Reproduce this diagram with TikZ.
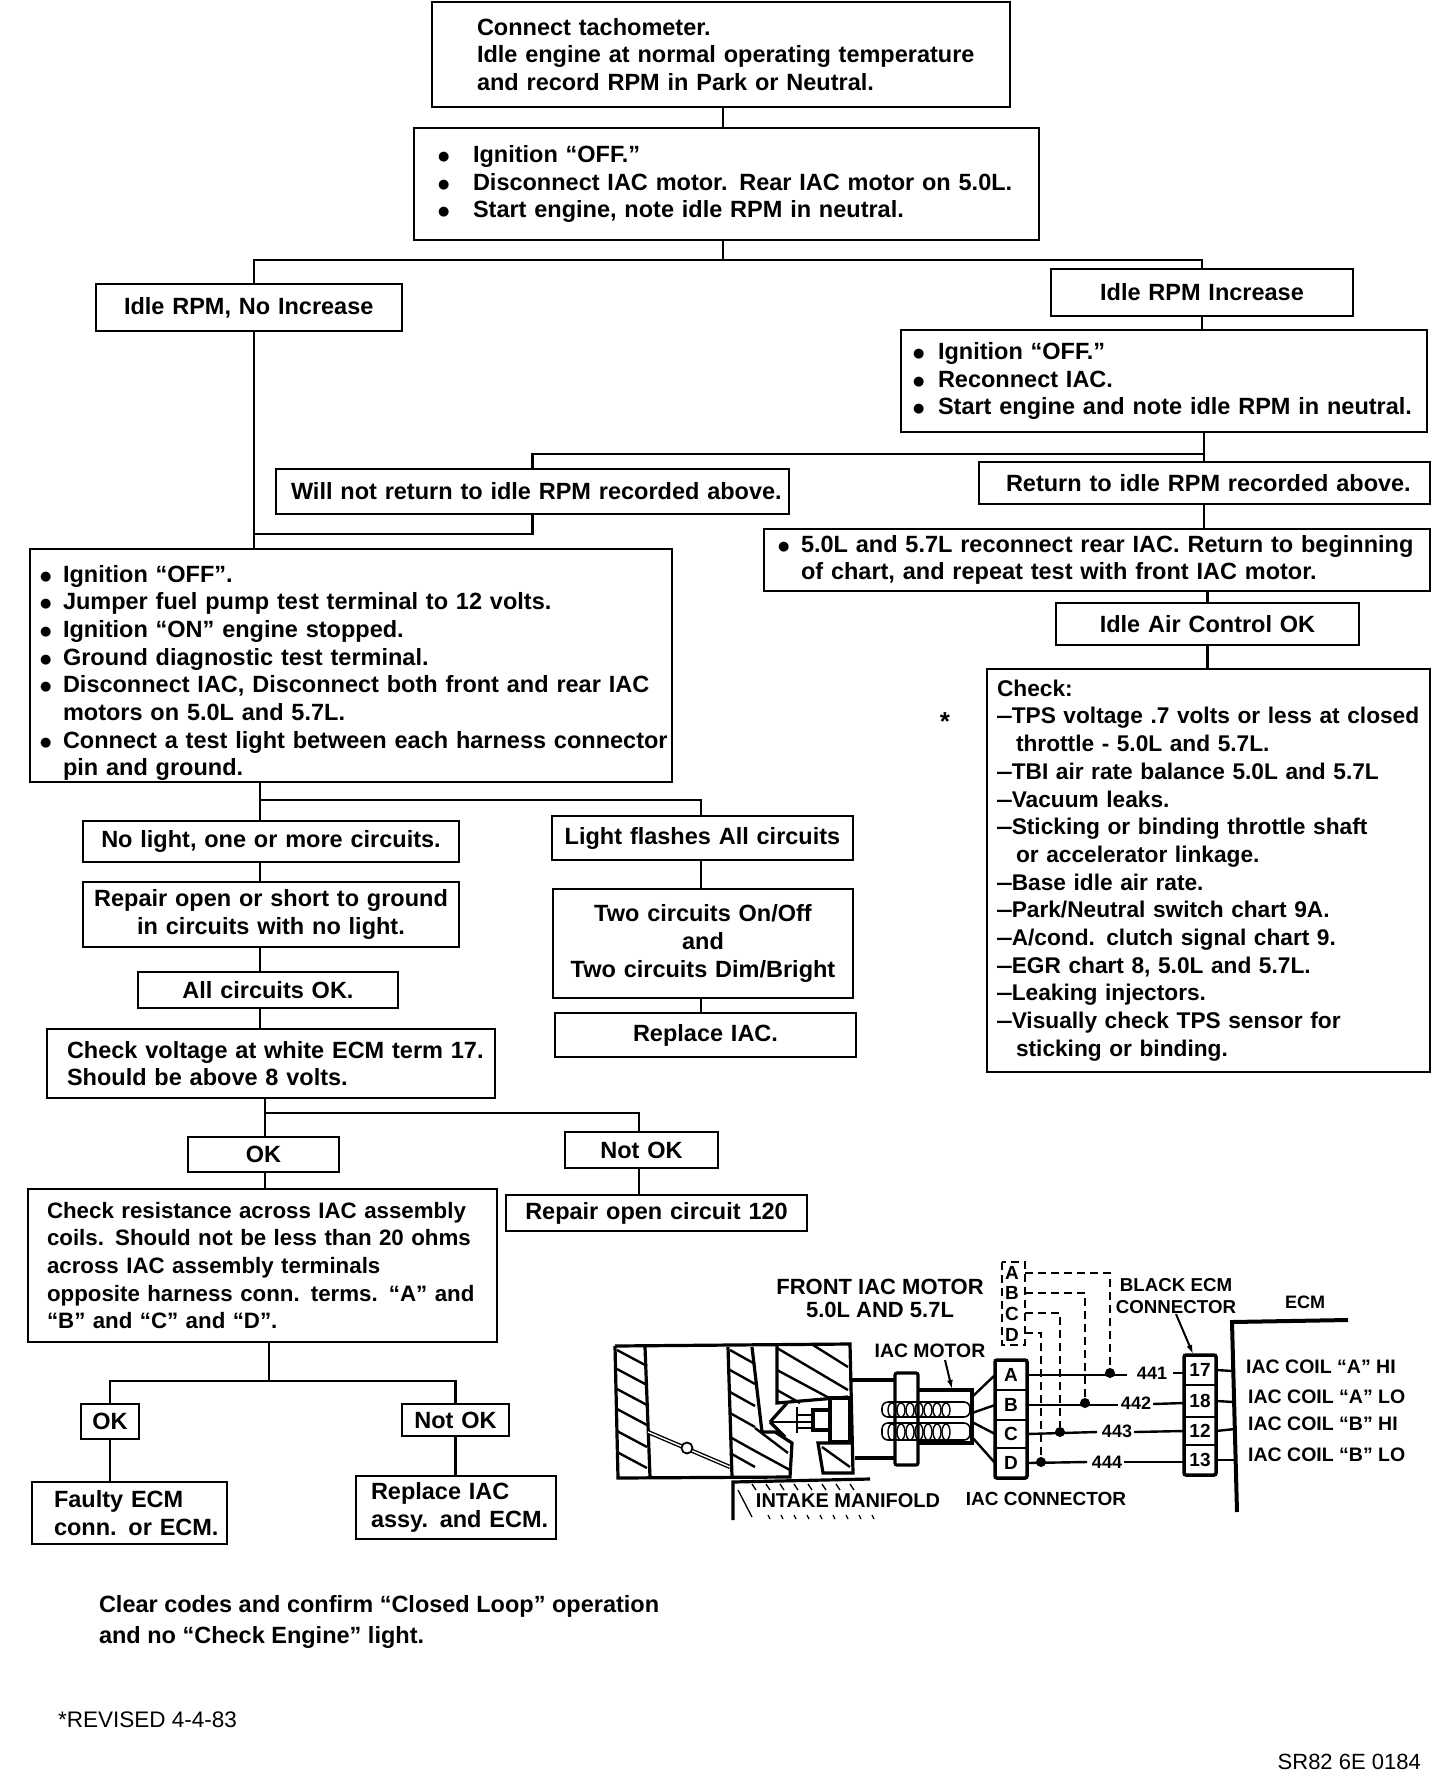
\documentclass[tikz,border=0pt]{standalone}
\usepackage{fontspec}
\setmainfont{Liberation Sans}
\newfontfamily\bulletfont{DejaVu Sans}
\usetikzlibrary{arrows.meta,fit,positioning}
\newcommand{\chartfont}{\fontsize{23.5}{27.7}\selectfont\bfseries}
\newcommand{\bul}[1]{\makebox[#1][l]{\raisebox{2pt}{\bulletfont\fontsize{13}{13}\selectfont ●}}}
\newcommand{\chk}{\scalebox{.65}[1]{—}}
\tikzset{
  stepbox/.style={draw=black,line width=2.4pt,inner xsep=0pt,inner ysep=0pt,outer sep=0pt,
    align=center,font=\chartfont},
  boxsize/.style 2 args={text width=#1,minimum height=#2},
  leftm/.style={align=left,execute at begin node={\leftskip=#1}},
  plaintext/.style={align=left,inner sep=0pt,outer sep=0pt,font=\chartfont},
  wire/.style={line width=2.4pt,draw=black},
  schemlabel/.style={inner sep=0pt,align=center,font=\fontsize{19}{23}\selectfont\bfseries},
  coillabel/.style={inner sep=0pt,anchor=west,font=\fontsize{19.5}{22}\selectfont\bfseries},
  wirelabel/.style={inner sep=0pt,font=\fontsize{18}{20}\selectfont\bfseries},
  pincell/.style={draw=black,line width=1.8pt,inner sep=0pt,outer sep=0pt,minimum width=32pt,
    font=\fontsize{19}{20}\selectfont\bfseries},
  pinframe/.style={draw=black,line width=3.5pt,rounded corners=2pt,inner sep=0pt},
  rearlabel/.style={inner sep=0pt,font=\fontsize{19}{20}\selectfont\bfseries},
  dashline/.style={line width=2pt,draw=black,dash pattern=on 8pt off 5pt},
  joindot/.style={circle,fill=black,inner sep=0pt,minimum size=10pt},
  bodyline/.style={line width=3.2pt,draw=black},
  hatch/.style={line width=2.4pt,draw=black},
  pointer/.style={-{Latex[length=9pt,width=6pt]},line width=2pt,draw=black}
}
\begin{document}
\begin{tikzpicture}[x=1pt,y=-1pt]
  \useasboundingbox (0,0) rectangle (1456,1772);
  % right hand branch
  \node[stepbox,boxsize={578pt}{105pt},leftm=45pt] (tach) at (721,54.5)
    {Connect tachometer.\\Idle engine at normal operating temperature\\and record RPM in Park or Neutral.};
  \node[stepbox,boxsize={625pt}{112pt},leftm=24pt,below=21pt of tach,xshift=5.5pt] (disconnect)
    {\bul{35pt}Ignition “OFF.”\\\bul{35pt}Disconnect IAC motor. Rear IAC motor on 5.0L.\\\bul{35pt}Start engine, note idle RPM in neutral.};
  \node[stepbox,boxsize={302pt}{47pt}] (increase) at (1202,292.5) {Idle RPM Increase};
  \node[stepbox,boxsize={526pt}{102pt},leftm=12pt,below=14pt of increase,xshift=-38pt] (reconnect)
    {\bul{25pt}Ignition “OFF.”\\\bul{25pt}Reconnect IAC.\\\bul{25pt}Start engine and note idle RPM in neutral.};
  \node[stepbox,boxsize={451pt}{42pt},leftm=27pt,below=30pt of reconnect,xshift=40.5pt] (returns)
    {Return to idle RPM recorded above.};
  \node[stepbox,boxsize={666pt}{62pt},leftm=14pt,below=25pt of returns,xshift=-107.5pt] (repeat)
    {\bul{23pt}5.0L and 5.7L reconnect rear IAC. Return to beginning\\\hspace*{23pt}of chart, and repeat test with front IAC motor.};
  \node[stepbox,boxsize={303pt}{42pt},below=12pt of repeat,xshift=110.5pt] (airok) {Idle Air Control OK};
  \node[stepbox,boxsize={443pt}{403pt},leftm=10pt,below=24pt of airok,xshift=1pt,
    font=\fontsize{22.7}{27.7}\selectfont\bfseries] (checks)
    {Check:\\\chk TPS voltage .7 volts or less at closed\\\hspace*{19pt}throttle - 5.0L and 5.7L.\\\chk TBI air rate balance 5.0L and 5.7L\\\chk Vacuum leaks.\\\chk Sticking or binding throttle shaft\\\hspace*{19pt}or accelerator linkage.\\\chk Base idle air rate.\\\chk Park/Neutral switch chart 9A.\\\chk A/cond. clutch signal chart 9.\\\chk EGR chart 8, 5.0L and 5.7L.\\\chk Leaking injectors.\\\chk Visually check TPS sensor for\\\hspace*{19pt}sticking or binding.};
  \node[inner sep=0pt,font=\fontsize{26}{26}\selectfont\bfseries] (star) at (945,722) {*};
  % left hand branch
  \node[stepbox,boxsize={306pt}{47pt},leftm=28pt] (noincrease) at (249,307.5) {Idle RPM, No Increase};
  \node[stepbox,boxsize={513pt}{45pt},leftm=15pt] (noreturn) at (532.5,491.5) {Will not return to idle RPM recorded above.};
  \node[stepbox,boxsize={642pt}{233pt},leftm=10pt] (jumper) at (351,665.5)
    {\rule{0pt}{32pt}\bul{23pt}Ignition “OFF”.\\\bul{23pt}Jumper fuel pump test terminal to 12 volts.\\\bul{23pt}Ignition “ON” engine stopped.\\\bul{23pt}Ground diagnostic test terminal.\\\bul{23pt}Disconnect IAC, Disconnect both front and rear IAC\\\hspace*{23pt}motors on 5.0L and 5.7L.\\\bul{23pt}Connect a test light between each harness connector\\\hspace*{23pt}pin and ground.};
  \node[stepbox,boxsize={376pt}{41pt},below=39pt of jumper,xshift=-80pt] (nolight) {No light, one or more circuits.};
  \node[stepbox,boxsize={376pt}{65pt},below=20pt of nolight] (repairopen) {Repair open or short to ground\\in circuits with no light.};
  \node[stepbox,boxsize={260pt}{36pt},below=25pt of repairopen,xshift=-3pt] (allok) {All circuits OK.};
  \node[stepbox,boxsize={448pt}{69pt},leftm=20pt,below=21pt of allok,xshift=3pt] (voltage)
    {Check voltage at white ECM term 17.\\Should be above 8 volts.};
  \node[stepbox,boxsize={151pt}{35pt},below=39pt of voltage,xshift=-7.5pt] (okupper) {OK};
  \node[stepbox,boxsize={469pt}{153pt},leftm=19pt,below=17pt of okupper,xshift=-1pt,
    font=\fontsize{22.3}{27.7}\selectfont\bfseries] (resist)
    {Check resistance across IAC assembly\\coils. Should not be less than 20 ohms\\across IAC assembly terminals\\opposite harness conn. terms. “A” and\\“B” and “C” and “D”.};
  \node[stepbox,boxsize={58pt}{35pt},below=62pt of resist,xshift=-152.5pt] (oklower) {OK};
  \node[stepbox,boxsize={107pt}{32pt},below=62pt of resist,xshift=193pt] (notoklower) {Not OK};
  \node[stepbox,boxsize={195pt}{62pt},leftm=22pt,below=43pt of oklower,xshift=19.5pt] (faulty) {Faulty ECM\\conn. or ECM.};
  \node[stepbox,boxsize={200pt}{63pt},leftm=15pt,below=40pt of notoklower,xshift=0.5pt] (replaceboth) {Replace IAC\\assy. and ECM.};
  \node[stepbox,boxsize={301pt}{44pt},below=34pt of jumper,xshift=351.5pt] (flashes) {Light flashes All circuits};
  \node[stepbox,boxsize={300pt}{109pt},below=29pt of flashes,xshift=0.5pt] (twocircuits) {Two circuits On/Off\\and\\Two circuits Dim/Bright};
  \node[stepbox,boxsize={301pt}{44pt},below=15pt of twocircuits,xshift=2.5pt] (replaceiac) {Replace IAC.};
  \node[stepbox,boxsize={153pt}{36pt}] (notokupper) at (641.5,1150) {Not OK};
  \node[stepbox,boxsize={301pt}{36pt},below=27pt of notokupper,xshift=15pt] (opencircuit) {Repair open circuit 120};
  \node[plaintext,anchor=north west] (clearcodes) at (99,1595) {Clear codes and confirm “Closed Loop” operation\\[4pt]and no “Check Engine” light.};
  \node[inner sep=0pt,anchor=west,font=\fontsize{22.5}{24}\selectfont] (revised) at (58,1720) {*REVISED 4-4-83};
  \node[inner sep=0pt,anchor=east,font=\fontsize{22}{24}\selectfont] (figno) at (1421,1762) {SR82 6E 0184};
  % bus bars
  \coordinate (topbus) at (723,260);
  \coordinate (midbus) at (1204,454);
  \coordinate (joinleft) at (254,534);
  \coordinate (lightbus) at (260,800);
  \coordinate (okbus) at (265,1113);
  \coordinate (lowbus) at (269,1381);
  \coordinate (flashdrop) at (701,800);
  \coordinate (notokdrop) at (639,1113);
  \draw[wire] (topbus |- tach.south) -- (topbus |- disconnect.north);
  \draw[wire] (topbus |- disconnect.south) -- (topbus);
  \draw[wire] (noincrease.north -| joinleft) |- (topbus);
  \draw[wire] (topbus) -| (increase.north);
  \draw[wire] (increase.south) -- (increase.south |- reconnect.north);
  \draw[wire] (midbus |- reconnect.south) -- (midbus |- returns.north);
  \draw[wire] (midbus) -| (noreturn.north);
  \draw[wire] (noreturn.south) |- (joinleft);
  \draw[wire] (joinleft |- noincrease.south) -- (joinleft |- jumper.north);
  \draw[wire] (midbus |- returns.south) -- (midbus |- repeat.north);
  \draw[wire] (airok.south |- repeat.south) -- (airok.north);
  \draw[wire] (airok.south) -- (airok.south |- checks.north);
  \draw[wire] (lightbus |- jumper.south) -- (lightbus |- nolight.north);
  \draw[wire] (lightbus) -- (flashdrop) -- (flashdrop |- flashes.north);
  \draw[wire] (lightbus |- nolight.south) -- (lightbus |- repairopen.north);
  \draw[wire] (lightbus |- repairopen.south) -- (lightbus |- allok.north);
  \draw[wire] (lightbus |- allok.south) -- (lightbus |- voltage.north);
  \draw[wire] (okbus |- voltage.south) -- (okbus |- okupper.north);
  \draw[wire] (okbus) -- (notokdrop) -- (notokdrop |- notokupper.north);
  \draw[wire] (okbus |- okupper.south) -- (okbus |- resist.north);
  \draw[wire] (notokdrop |- notokupper.south) -- (notokdrop |- opencircuit.north);
  \draw[wire] (flashdrop |- flashes.south) -- (flashdrop |- twocircuits.north);
  \draw[wire] (flashdrop |- twocircuits.south) -- (flashdrop |- replaceiac.north);
  \draw[wire] (lowbus |- resist.south) -- (lowbus);
  \draw[wire] (oklower.north) |- (lowbus);
  \draw[wire] (lowbus) -| (notoklower.north);
  \draw[wire] (oklower.south) -- (oklower.south |- faulty.north);
  \draw[wire] (notoklower.south) -- (notoklower.south |- replaceboth.north);
  % throttle body
  \draw[bodyline] (615,1346) -- (850,1344) -- (853,1473) -- (823,1473) -- (818,1443) -- (852,1443);
  \draw[bodyline] (615,1346) -- (618,1478) -- (790,1477) -- (792,1443) -- (775,1432) -- (762,1432) -- (752,1347);
  \draw[bodyline] (645,1347) -- (650,1477);
  \draw[bodyline] (728,1347) -- (732,1477);
  \draw[bodyline] (777,1345) -- (777,1403) -- (848,1397);
  \foreach \y in {1350,1369,1389,1409,1431,1452} \draw[hatch] (617,\y) -- (647,\y+16);
  \foreach \y in {1350,1370,1392,1413,1437,1453} \draw[hatch] (730,\y) -- (755,\y+14);
  \draw[hatch] (755,1451) -- (790,1470);
  \draw[hatch] (755,1428) -- (788,1453);
  \draw[hatch] (813,1345) -- (848,1367);
  \draw[hatch] (777,1348) -- (848,1390);
  \draw[hatch] (777,1370) -- (833,1400);
  \draw[hatch] (777,1390) -- (800,1403);
  \draw[hatch] (822,1447) -- (850,1467);
  % throttle plate and pintle
  \draw[line width=1.4pt,double distance=1.4pt] (648,1432) -- (730,1467);
  \draw[line width=1.8pt,fill=white] (687,1448) circle (5.5pt);
  \draw[bodyline,fill=white] (830,1398) rectangle (850,1442);
  \draw[bodyline,fill=white] (813,1410) rectangle (830,1430);
  \draw[bodyline] (770,1422) -- (787,1403);
  \draw[bodyline] (770,1422) -- (785,1437);
  \draw[hatch] (797,1407) -- (797,1433);
  \draw[hatch] (770,1422) -- (813,1422);
  \draw[hatch] (797,1415) -- (813,1415);
  \draw[hatch] (797,1428) -- (813,1428);
  % motor housing
  \draw[bodyline] (852,1380) -- (895,1380);
  \draw[bodyline] (855,1458) -- (895,1458);
  \draw[bodyline,rounded corners=2pt] (895,1373) rectangle (918,1465);
  \draw[bodyline] (918,1390) -- (972,1390) -- (972,1443) -- (918,1443);
  \draw[line width=1.6pt,rounded corners=6pt] (882,1402) rectangle (970,1417);
  \draw[line width=1.6pt,rounded corners=6pt] (882,1423) rectangle (970,1440);
  \foreach \x in {892,901,...,948} {
    \draw[line width=1.4pt] (\x,1410) ellipse (4pt and 7pt);
    \draw[line width=1.4pt] (\x,1432) ellipse (4pt and 8pt);
  }
  % intake manifold
  \draw[bodyline] (733,1520) -- (733,1482) -- (870,1479);
  \foreach \x in {752,766,...,856} \draw[line width=1.3pt] (\x,1484) -- (\x+4,1490);
  \foreach \x in {768,781,...,872} \draw[line width=1.3pt] (\x,1515) -- (\x+2,1519);
  \draw[line width=1.3pt] (738,1490) -- (752,1517);
  % IAC connector
  \node[pincell,minimum height=30pt] (iacA) at (1011,1375) {A};
  \node[pincell,minimum height=30pt,below=0pt of iacA] (iacB) {B};
  \node[pincell,minimum height=28pt,below=0pt of iacB] (iacC) {C};
  \node[pincell,minimum height=30pt,below=0pt of iacC] (iacD) {D};
  \node[pinframe,fit=(iacA)(iacD)] (iacframe) {};
  \coordinate (coilA) at (972,1397);
  \coordinate (coilB) at (972,1413);
  \coordinate (coilC) at (972,1422);
  \coordinate (coilD) at (972,1437);
  \draw[hatch] (coilA) -- (iacA.west);
  \draw[hatch] (coilB) -- (iacB.west);
  \draw[hatch] (coilC) -- (iacC.west);
  \draw[hatch] (coilD) -- (iacD.west);
  \node[schemlabel,font=\fontsize{22}{23}\selectfont\bfseries] (frontlabel) at (880,1298) {FRONT IAC MOTOR\\5.0L AND 5.7L};
  \node[schemlabel,font=\fontsize{19.4}{20}\selectfont\bfseries] (motorlabel) at (930,1351) {IAC MOTOR};
  \coordinate (motortip) at (952,1389);
  \draw[pointer] (motorlabel.south) ++(15,2) -- (motortip);
  \node[schemlabel,font=\fontsize{20}{20}\selectfont\bfseries] (intakelabel) at (848,1501) {INTAKE MANIFOLD};
  \node[schemlabel] (connlabel) at (1046,1499) {IAC CONNECTOR};
  % rear IAC connector
  \node[rearlabel] (rearA) at (1012,1273) {A};
  \node[rearlabel] (rearB) at (1012,1293) {B};
  \node[rearlabel] (rearC) at (1012,1314) {C};
  \node[rearlabel] (rearD) at (1012,1335) {D};
  \draw[dashline] (1002,1262) rectangle (1025,1345);
  \node[joindot] (dotA) at (1110,1373) {};
  \node[joindot] (dotB) at (1085,1403) {};
  \node[joindot] (dotC) at (1060,1432) {};
  \node[joindot] (dotD) at (1041,1462) {};
  \draw[dashline] (1025,1273) -| (dotA);
  \draw[dashline] (1025,1293) -| (dotB);
  \draw[dashline] (1025,1313) -| (dotC);
  \draw[dashline] (1025,1333) -| (dotD);
  % ECM side
  \node[pincell,minimum height=30pt] (pinSeventeen) at (1200,1370) {17};
  \node[pincell,minimum height=32pt,below=0pt of pinSeventeen] (pinEighteen) {18};
  \node[pincell,minimum height=28pt,below=0pt of pinEighteen] (pinTwelve) {12};
  \node[pincell,minimum height=30pt,below=0pt of pinTwelve] (pinThirteen) {13};
  \node[pinframe,fit=(pinSeventeen)(pinThirteen)] (ecmframe) {};
  \node[wirelabel] (wireA) at (1152,1373) {441};
  \node[wirelabel] (wireB) at (1136,1403) {442};
  \node[wirelabel] (wireC) at (1117,1431) {443};
  \node[wirelabel] (wireD) at (1107,1462) {444};
  \draw[wire] (iacA.east) -- (1127,1375);
  \draw[wire] (wireA.east) ++(6,0) -- (pinSeventeen.west |- wireA.east);
  \draw[wire] (iacB.east) -- (1118,1405);
  \draw[wire] (wireB.east) ++(2,1) -- (pinEighteen.west |- wireB.east);
  \draw[wire] (iacC.east) -- (1097,1432);
  \draw[wire] (wireC.east) ++(2,1) -- (pinTwelve.west |- wireC.east);
  \draw[wire] (iacD.east) -- (1087,1462);
  \draw[wire] (wireD.east) ++(2,0) -- (pinThirteen.west |- wireD.east);
  \node[schemlabel,font=\fontsize{18.7}{22.5}\selectfont\bfseries] (blacklabel) at (1176,1296) {BLACK ECM\\CONNECTOR};
  \coordinate (blacktip) at (1193,1354);
  \draw[pointer] (blacklabel.south) -- (blacktip);
  \node[schemlabel,font=\fontsize{18}{20}\selectfont\bfseries] (ecmlabel) at (1305,1302) {ECM};
  \draw[line width=4pt] (1348,1320) -- (1232,1322) -- (1237,1512);
  \draw[wire] (pinSeventeen.east) -- (1233,1371);
  \draw[wire] (pinEighteen.east) -- (1234,1402);
  \draw[wire] (pinTwelve.east) -- (1235,1429);
  \draw[wire] (pinThirteen.east) -- (1235,1460);
  \node[coillabel] (coilhiA) at (1246,1367) {IAC COIL “A” HI};
  \node[coillabel] (coilloA) at (1248,1397) {IAC COIL “A” LO};
  \node[coillabel] (coilhiB) at (1248,1424) {IAC COIL “B” HI};
  \node[coillabel] (coilloB) at (1248,1455) {IAC COIL “B” LO};
\end{tikzpicture}
\end{document}
